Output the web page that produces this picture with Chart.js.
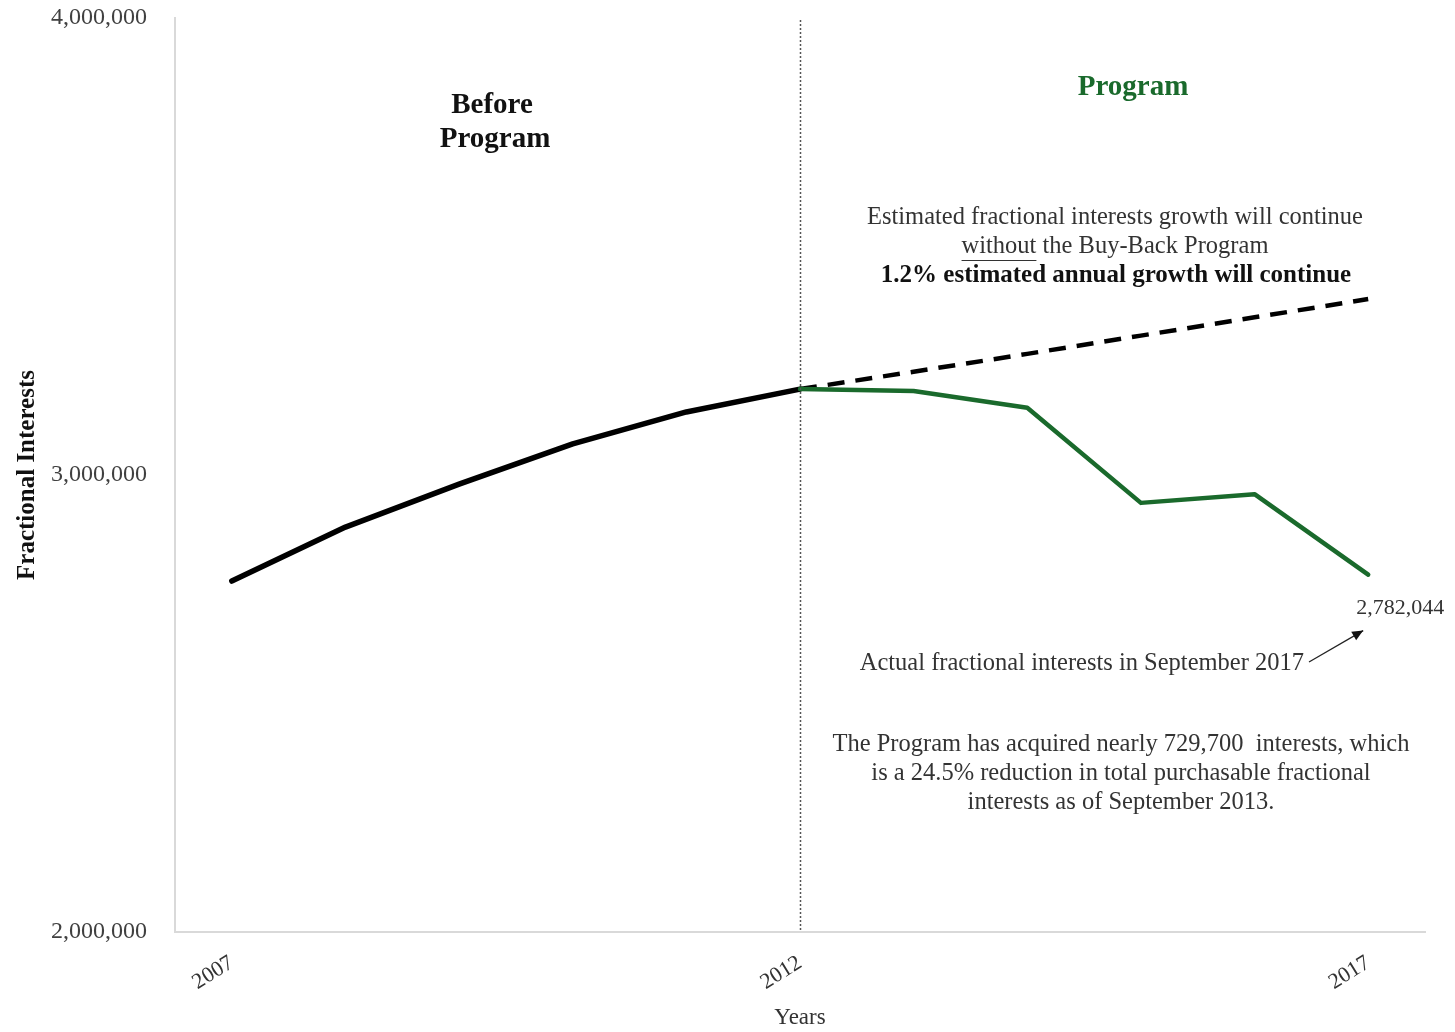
<!DOCTYPE html>
<html>
<head>
<meta charset="utf-8">
<script src="https://cdn.jsdelivr.net/npm/chart.js@4.4.1/dist/chart.umd.min.js"></script>
<style>
  html, body { margin: 0; padding: 0; background: #ffffff; }
  #wrap { width: 1455px; height: 1032px; position: relative; }
</style>
</head>
<body>
<div id="wrap"><canvas id="chart" width="1455" height="1032"></canvas></div>
<script>
// Fractional interests, 2007-2017
const beforeYears = [2007, 2008, 2009, 2010, 2011, 2012];
const beforeValues = [2768000, 2886000, 2980000, 3068000, 3138000, 3188000];

const programYears = [2012, 2013, 2014, 2015, 2016, 2017];
const programValues = [3188000, 3184000, 3147000, 2939000, 2958000, 2782044];

const projectedYears = [2012, 2013, 2014, 2015, 2016, 2017];
const projectedValues = [3188000, 3226000, 3265000, 3305000, 3345000, 3385000];

const xTickYears = [2007, 2012, 2017];
const yTickValues = [2000000, 3000000, 4000000];
const programStartYear = 2012;

const SERIF = '"Liberation Serif", "Times New Roman", serif';
const GREEN = '#1a6a2c';

function toPoints(xs, ys) {
  return xs.map((x, i) => ({ x: x, y: ys[i] }));
}
function fmt(v) {
  return Number(v).toLocaleString('en-US');
}

const annotations = {
  id: 'annotations',
  afterDatasetsDraw(chart) {
    const ctx = chart.ctx;
    const xs = chart.scales.x, ys = chart.scales.y;
    const area = chart.chartArea;
    ctx.save();

    // program start marker
    const px = Math.round(xs.getPixelForValue(programStartYear)) + 0.5;
    ctx.strokeStyle = '#555555';
    ctx.lineWidth = 1.5;
    ctx.setLineDash([2, 2]);
    ctx.beginPath();
    ctx.moveTo(px, area.top + 2);
    ctx.lineTo(px, area.bottom);
    ctx.stroke();
    ctx.setLineDash([]);

    ctx.textAlign = 'center';
    ctx.textBaseline = 'middle';

    // period headings
    ctx.fillStyle = '#111111';
    ctx.font = 'bold 29px ' + SERIF;
    ctx.fillText('Before', 492, 106);
    ctx.fillText('Program', 495, 140);
    ctx.fillStyle = GREEN;
    ctx.fillText('Program', 1133, 88);

    // projection note
    ctx.fillStyle = '#333333';
    ctx.font = '24.5px ' + SERIF;
    ctx.fillText('Estimated fractional interests growth will continue', 1115, 218);
    const w1 = ctx.measureText('without').width;
    const w2 = ctx.measureText(' the Buy-Back Program').width;
    const startX = 1115 - (w1 + w2) / 2;
    ctx.textAlign = 'left';
    ctx.fillText('without', startX, 247);
    ctx.fillText(' the Buy-Back Program', startX + w1, 247);
    ctx.strokeStyle = '#333333';
    ctx.lineWidth = 1;
    ctx.beginPath();
    ctx.moveTo(startX, 260.5);
    ctx.lineTo(startX + w1, 260.5);
    ctx.stroke();
    ctx.textAlign = 'center';
    ctx.fillStyle = '#111111';
    ctx.font = 'bold 25px ' + SERIF;
    ctx.fillText('1.2% estimated annual growth will continue', 1116, 276);

    // last value label with arrow pointing up at it
    const last = programValues.length - 1;
    const lx = xs.getPixelForValue(programYears[last]);
    const ly = ys.getPixelForValue(programValues[last]);
    ctx.fillStyle = '#333333';
    ctx.font = '22px ' + SERIF;
    ctx.fillText(fmt(programValues[last]), lx + 32, ly + 34);

    ctx.textAlign = 'right';
    ctx.font = '24.5px ' + SERIF;
    ctx.fillText('Actual fractional interests in September 2017', 1304, 664);

    const ax0 = 1309, ay0 = 662, ax1 = lx - 5, ay1 = ly + 56;
    ctx.strokeStyle = '#222222';
    ctx.lineWidth = 1.3;
    ctx.beginPath();
    ctx.moveTo(ax0, ay0);
    ctx.lineTo(ax1, ay1);
    ctx.stroke();
    const ang = Math.atan2(ay1 - ay0, ax1 - ax0);
    ctx.fillStyle = '#111111';
    ctx.beginPath();
    ctx.moveTo(ax1, ay1);
    ctx.lineTo(ax1 - 12 * Math.cos(ang - 0.42), ay1 - 12 * Math.sin(ang - 0.42));
    ctx.lineTo(ax1 - 12 * Math.cos(ang + 0.42), ay1 - 12 * Math.sin(ang + 0.42));
    ctx.closePath();
    ctx.fill();

    // summary note
    ctx.textAlign = 'center';
    ctx.fillStyle = '#333333';
    ctx.font = '24.5px ' + SERIF;
    ctx.fillText('The Program has acquired nearly 729,700  interests, which', 1121, 745);
    ctx.fillText('is a 24.5% reduction in total purchasable fractional', 1121, 774);
    ctx.fillText('interests as of September 2013.', 1121, 803);

    ctx.restore();
  }
};

new Chart(document.getElementById('chart'), {
  type: 'line',
  data: {
    datasets: [
      {
        label: 'Before Program',
        data: toPoints(beforeYears, beforeValues),
        borderColor: '#000000',
        borderWidth: 5.5,
        borderCapStyle: 'round',
        borderJoinStyle: 'round',
        pointRadius: 0,
        tension: 0,
        order: 3
      },
      {
        label: 'Projected without Program',
        data: toPoints(projectedYears, projectedValues),
        borderColor: '#000000',
        borderWidth: 4.5,
        borderDash: [17, 11],
        pointRadius: 0,
        tension: 0,
        order: 2
      },
      {
        label: 'Program',
        data: toPoints(programYears, programValues),
        borderColor: GREEN,
        borderWidth: 4.5,
        borderCapStyle: 'round',
        borderJoinStyle: 'round',
        pointRadius: 0,
        tension: 0,
        order: 1
      }
    ]
  },
  options: {
    responsive: false,
    animation: false,
    devicePixelRatio: 1,
    layout: { padding: { top: 18, right: 30, left: 0, bottom: 0 } },
    plugins: {
      legend: { display: false },
      tooltip: { enabled: false }
    },
    scales: {
      x: {
        type: 'linear',
        min: 2006.5,
        max: 2017.5,
        afterBuildTicks(scale) {
          scale.ticks = xTickYears.map(v => ({ value: v }));
        },
        afterFit(scale) {
          scale.height = 100;
          scale.paddingLeft = 0;
          scale.paddingRight = 0;
        },
        grid: { display: false, drawTicks: false },
        border: { display: true, color: '#d9d9d9', width: 2 },
        ticks: {
          minRotation: 32,
          maxRotation: 32,
          padding: 18,
          color: '#333333',
          font: { family: SERIF, size: 22 },
          callback: v => String(v)
        },
        title: {
          display: true,
          text: 'Years',
          color: '#333333',
          font: { family: SERIF, size: 23 },
          padding: { top: 0, bottom: 0 }
        }
      },
      y: {
        min: 2000000,
        max: 4000000,
        afterBuildTicks(scale) {
          scale.ticks = yTickValues.map(v => ({ value: v }));
        },
        afterFit(scale) {
          scale.width = 175;
          scale.paddingTop = 0;
          scale.paddingBottom = 0;
        },
        grid: { display: false, drawTicks: false },
        border: { display: true, color: '#d9d9d9', width: 2 },
        ticks: {
          padding: 28,
          color: '#404040',
          font: { family: SERIF, size: 24 },
          callback: v => fmt(v)
        },
        title: {
          display: true,
          text: 'Fractional Interests',
          color: '#111111',
          font: { family: SERIF, size: 25, weight: 'bold' },
          padding: { top: 13, bottom: 0 }
        }
      }
    }
  },
  plugins: [annotations]
});
</script>
</body>
</html>
